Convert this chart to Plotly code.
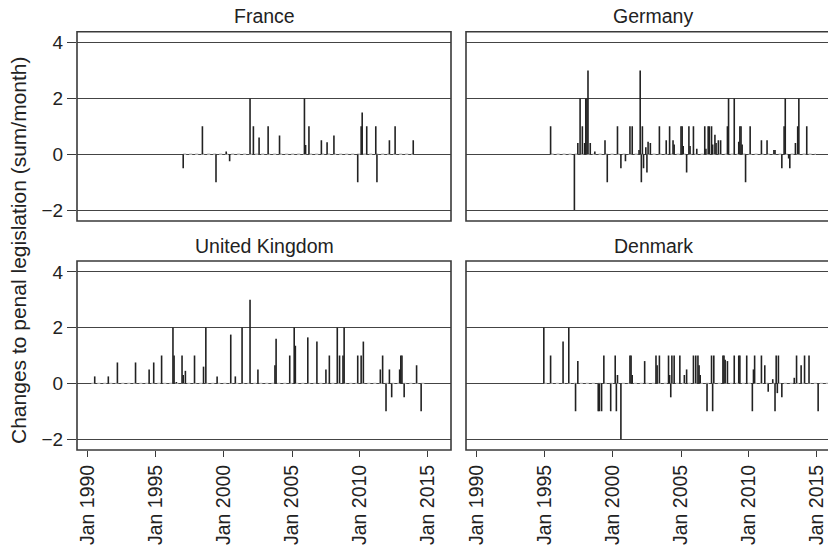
import plotly.graph_objects as go

# ---------------- data ----------------
fr_dates = ["1997-01", "1998-06", "1999-06", "2000-03", "2000-06", "2001-12", "2002-03", "2002-08",
            "2003-04", "2004-02", "2005-12", "2006-01", "2006-04", "2007-03", "2007-08", "2008-02",
            "2009-11", "2010-02", "2010-03", "2010-07", "2011-03", "2011-04", "2012-03", "2012-08",
            "2013-12"]
fr_vals = [-0.5, 1, -1, 0.1, -0.25, 2, 1, 0.6,
           1, 0.67, 2, 0.33, 1, 0.5, 0.43, 0.67,
           -1, 1, 1.5, 1, 1, -1, 0.5, 1,
           0.5]
fr_span = ["1997-01", "2013-12"]

de_dates = ["1995-06", "1997-03", "1997-06", "1997-08", "1997-10", "1997-12", "1998-01", "1998-02",
            "1998-03", "1998-05", "1998-09", "1999-06", "1999-08", "2000-05", "2000-08", "2000-12",
            "2001-04", "2001-06", "2001-12", "2002-01", "2002-02", "2002-03", "2002-04", "2002-06",
            "2002-07", "2002-08", "2002-10", "2003-06", "2003-12", "2004-03", "2004-06", "2004-07",
            "2005-01", "2005-02", "2005-03", "2005-06", "2005-08", "2005-09", "2005-12", "2006-03",
            "2006-10", "2006-11", "2007-01", "2007-02", "2007-04", "2007-05", "2007-07", "2007-08",
            "2007-10", "2007-12", "2008-06", "2008-07", "2008-12", "2009-04", "2009-05", "2009-06",
            "2009-07", "2009-10", "2010-02", "2010-12", "2011-05", "2011-11", "2011-12", "2012-06",
            "2012-08", "2012-09", "2012-12", "2013-01", "2013-06", "2013-08", "2013-09", "2014-04"]
de_vals = [1, -2, 0.4, 2, 1, 0.4, 2, 2,
           3, 0.4, 0.1, 0.5, -1, 1, -0.5, -0.25,
           1, 1, 0.15, 3, -1, 1, -0.5, 0.25,
           -0.65, 0.45, 0.4, 1, 0.5, 1, 0.5, 0.35,
           1, 1, 0.3, -0.65, 1, 0.3, 1, 0.2,
           1, 0.2, 1, 1, 1, 0.35, 0.7, 0.4,
           0.5, 0.5, 1, 2, 2, 0.45, 1, 1,
           0.35, -1, 1, 0.5, 0.5, 0.15, 0.15, -0.5,
           1, 2, -0.15, -0.5, 0.4, 1, 2, 1]
de_span = ["1995-06", "2014-12"]

uk_dates = ["1990-07", "1991-07", "1992-03", "1993-07", "1994-07", "1994-11", "1995-06", "1996-04",
            "1996-05", "1996-07", "1996-12", "1997-01", "1997-03", "1997-11", "1998-07", "1998-09",
            "1999-07", "2000-07", "2000-11", "2001-05", "2001-12", "2002-07", "2003-10", "2003-11",
            "2004-11", "2005-03", "2005-04", "2006-03", "2006-11", "2007-07", "2007-10", "2008-05",
            "2008-07", "2008-10", "2008-11", "2009-11", "2010-02", "2010-04", "2011-07", "2011-09",
            "2011-12", "2012-03", "2012-05", "2012-12", "2013-01", "2013-02", "2013-04", "2014-03",
            "2014-07"]
uk_vals = [0.25, 0.25, 0.75, 0.75, 0.5, 0.75, 1, 2,
           1, 0.05, 1, 0.3, 0.45, 1, 0.6, 2,
           0.25, 1.75, 0.25, 2, 3, 0.5, 0.65, 1.6,
           1, 2, 1.35, 1.65, 1.5, 0.5, 1, 2,
           1, 1, 2, 1, 1, 1.5, 0.5, 1,
           -1, 0.5, -0.5, 0.5, 1, 1, -0.5, 0.65,
           -1]
uk_span = ["1990-04", "2014-12"]

dk_dates = ["1994-12", "1995-06", "1996-05", "1996-10", "1997-04", "1997-06", "1998-12", "1999-01",
            "1999-03", "1999-05", "1999-11", "2000-03", "2000-04", "2000-05", "2000-08", "2001-04",
            "2001-05", "2001-06", "2002-05", "2003-03", "2003-04", "2003-06", "2004-02", "2004-03",
            "2004-04", "2004-05", "2004-07", "2004-12", "2005-04", "2005-06", "2005-12", "2006-02",
            "2006-04", "2006-05", "2006-06", "2006-12", "2007-04", "2007-05", "2007-06", "2008-02",
            "2008-03", "2008-04", "2008-06", "2008-12", "2009-04", "2009-05", "2009-11", "2010-04",
            "2010-05", "2010-06", "2010-12", "2011-03", "2011-06", "2011-10", "2011-12", "2012-01",
            "2012-02", "2012-03", "2012-06", "2013-05", "2013-07", "2013-11", "2014-02", "2014-06",
            "2015-02", "2015-12"]
dk_vals = [2, 1, 1.5, 2, -1, 0.8, -1, -1,
           -1, 1, -1, 1, -1, 0.3, -2, 1,
           1, 0.3, 0.8, 1, 0.65, 1, 1, 0.3,
           -0.5, 1, 1, 1, 0.3, 0.5, 1, 1,
           1, 0.65, 0.3, -1, 1, -1, 1, 1,
           1, 0.85, 0.8, 1, 1, 1, 1, -1,
           0.5, 1, 1, 0.65, -0.3, 0.15, -1, 1,
           -0.35, 1, -0.5, 0.2, 1, 0.65, 1, 1,
           -1, 1.5]
dk_span = ["1994-12", "2015-12"]

panels = [("France", fr_dates, fr_vals, fr_span),
          ("Germany", de_dates, de_vals, de_span),
          ("United Kingdom", uk_dates, uk_vals, uk_span),
          ("Denmark", dk_dates, dk_vals, dk_span)]

tick_vals = ["1990-01-01", "1995-01-01", "2000-01-01", "2005-01-01", "2010-01-01", "2015-01-01"]
tick_text = ["Jan 1990", "Jan 1995", "Jan 2000", "Jan 2005", "Jan 2010", "Jan 2015"]
y_ticks = [-2, 0, 2, 4]
y_text = ["\u22122", "0", "2", "4"]

# ---------------- layout geometry ----------------
W, H = 836, 553
OFF = 8  # the page body has a default 8px margin
FONT = "Liberation Sans, Arial, Helvetica, sans-serif"
INK = "#222222"
FRAME = "#3a3a3a"

def px(x):
    return (x - OFF) / W

def py(y):
    return 1 - (y - OFF) / H

xdom = {"L": [px(77), px(451)], "R": [px(466), px(840)]}
xrng = {"L": ["1989-03-12", "2016-09-10"], "R": ["1989-03-12", "2016-09-10"]}
ydom = {"T": [py(221), py(31.7)], "B": [py(450), py(261)]}
yrng = [-2.39, 4.39]

pos = [("L", "T"), ("R", "T"), ("L", "B"), ("R", "B")]

fig = go.Figure()
shapes = []
annotations = []

for i, ((name, dates, vals, span), (cx, cy)) in enumerate(zip(panels, pos)):
    n = "" if i == 0 else str(i + 1)
    xa, ya = "x" + n, "y" + n
    # zero baseline of the series
    fig.add_trace(go.Scatter(x=span, y=[0, 0], mode="lines", xaxis=xa, yaxis=ya,
                             line=dict(color="#b0b0b0", width=1.4, dash="dot"),
                             hoverinfo="skip", showlegend=False))
    # spikes
    xs, ys = [], []
    for d, v in zip(dates, vals):
        xs += [d, d, None]
        ys += [0, v, None]
    fig.add_trace(go.Scatter(x=xs, y=ys, mode="lines", xaxis=xa, yaxis=ya,
                             line=dict(color=INK, width=1.6),
                             hoverinfo="skip", showlegend=False))

    bottom = cy == "B"
    left = cx == "L"
    fig.layout["xaxis" + n] = dict(
        domain=xdom[cx], range=xrng[cx], type="date", anchor=ya, automargin=False,
        showgrid=False, zeroline=False, showline=False,
        tickmode="array", tickvals=tick_vals, ticktext=tick_text,
        showticklabels=bottom, ticks="outside" if bottom else "",
        ticklen=6, tickwidth=1.3, tickcolor=FRAME, tickangle=-90,
        tickfont=dict(family=FONT, size=19.5, color=INK),
    )
    fig.layout["yaxis" + n] = dict(
        domain=ydom[cy], range=yrng, anchor=xa, automargin=False,
        showgrid=True, gridcolor="#444444", gridwidth=1.3,
        zeroline=False, showline=False,
        tickmode="array", tickvals=y_ticks, ticktext=y_text,
        showticklabels=left, ticks="outside" if left else "",
        ticklen=9, tickwidth=1.3, tickcolor=FRAME,
        tickfont=dict(family=FONT, size=19, color=INK),
    )
    # frame
    x0, x1 = xdom[cx]
    y0, y1 = ydom[cy]
    shapes.append(dict(type="rect", xref="paper", yref="paper", x0=x0, x1=x1, y0=y0, y1=y1,
                       line=dict(color=FRAME, width=1.6), fillcolor="rgba(0,0,0,0)", layer="above"))
    # panel title (bottom-anchored just above the frame)
    tx = (xdom[cx][0] + xdom[cx][1]) / 2
    ty = py(29.5) if cy == "T" else py(259)
    annotations.append(dict(text=name, x=tx, y=ty, xref="paper", yref="paper",
                            xanchor="center", yanchor="bottom", showarrow=False,
                            font=dict(family=FONT, size=19.5, color=INK)))

annotations.append(dict(text="Changes to penal legislation (sum/month)", x=px(18), y=py(250),
                        xref="paper", yref="paper", xanchor="center", yanchor="middle",
                        textangle=-90, showarrow=False,
                        font=dict(family=FONT, size=21, color=INK)))

fig.update_layout(width=W, height=H, margin=dict(l=0, r=0, t=0, b=0, autoexpand=False),
                  paper_bgcolor="white", plot_bgcolor="white",
                  shapes=shapes, annotations=annotations, showlegend=False)

fig.write_html("out.html")
